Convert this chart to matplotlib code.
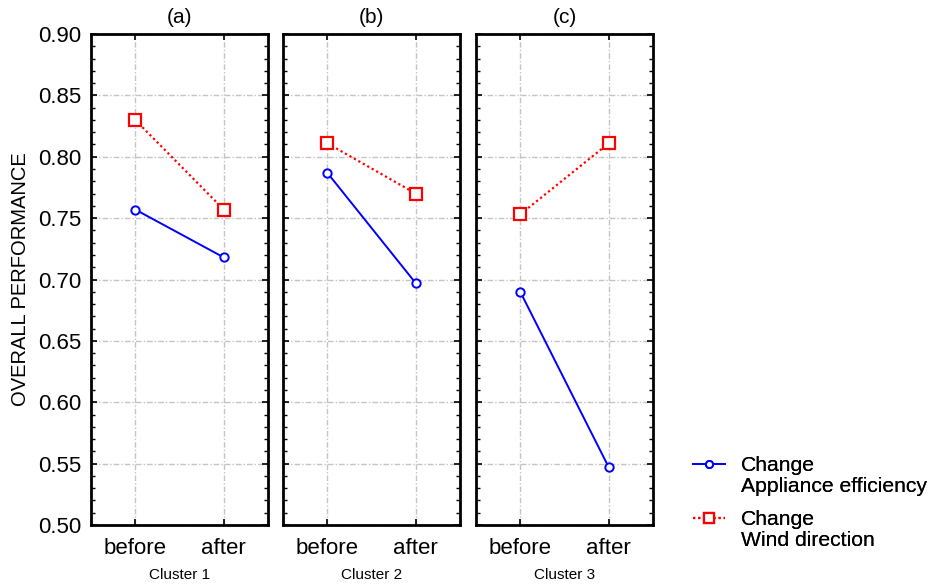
import matplotlib
matplotlib.use("Agg")
import matplotlib.pyplot as plt
from matplotlib.lines import Line2D
from matplotlib.ticker import MultipleLocator

plt.rcParams['font.family'] = ['Liberation Sans', 'DejaVu Sans']

# data
phases = ["before", "after"]
titles = ["(a)", "(b)", "(c)"]
clusters = ["Cluster 1", "Cluster 2", "Cluster 3"]
appliance = [[0.757, 0.718], [0.787, 0.697], [0.690, 0.547]]
wind = [[0.830, 0.757], [0.811, 0.770], [0.753, 0.811]]
legend_names = ["Appliance efficiency", "Wind direction"]

fig = plt.figure(figsize=(9.3, 5.88), dpi=100)
W, H = 930, 588
lefts = [91, 283, 476]
pw = 177
top, bot = 34, 525

for i in range(3):
    ax = fig.add_axes([lefts[i] / W, 1 - bot / H, pw / W, (bot - top) / H])
    x = range(len(phases))
    l1, = ax.plot(x, appliance[i], color='blue', lw=1.4, marker='o', ms=6,
                  mfc='white', mec='blue', mew=1.4, zorder=3)
    l2, = ax.plot(x, wind[i], color='red', lw=1.6, ls=(0, (1, 1.3)), marker='s', ms=8,
                  mfc='white', mec='red', mew=1.6, zorder=3)
    ax.set_xlim(-0.5, 1.5)
    ax.set_ylim(0.50, 0.90)
    ax.set_xticks(list(x))
    ax.set_xticklabels(phases, fontsize=16)
    ax.yaxis.set_major_locator(MultipleLocator(0.05))
    ax.yaxis.set_minor_locator(MultipleLocator(0.01))
    ax.grid(True, color='#c4c4c4', ls=(0, (4, 1.5, 1, 1.5)), lw=1)
    ax.tick_params(axis='both', which='both', direction='in', top=True, right=True)
    ax.tick_params(which='major', length=4, width=1.2)
    ax.tick_params(which='minor', length=3, width=1)
    ax.tick_params(axis='x', pad=9)
    ax.tick_params(axis='y', pad=7)
    for s in ax.spines.values():
        s.set_linewidth(2)
    ax.set_title(titles[i], fontsize=15, pad=8)
    ax.set_xlabel(clusters[i], fontsize=11, labelpad=7)
    if i == 0:
        ax.set_yticklabels([f"{v:.2f}" for v in ax.get_yticks()], fontsize=16)
        ax.set_ylabel("OVERALL PERFORMANCE", fontsize=14.5, labelpad=6)
    else:
        ax.tick_params(axis='y', labelleft=False)

blank = Line2D([], [], alpha=0)
for h, name, ytop in [(l1, legend_names[0], 437), (l2, legend_names[1], 491)]:
    lg = fig.legend([h, blank], ["Change", name], loc='upper left',
                    bbox_to_anchor=(674 / W, 1 - ytop / H), frameon=False,
                    fontsize=15.2, handlelength=1.5, labelspacing=0.1,
                    handletextpad=0.75, markerscale=0.85)
    fig.add_artist(lg)

fig.savefig("out.png", dpi=100)
